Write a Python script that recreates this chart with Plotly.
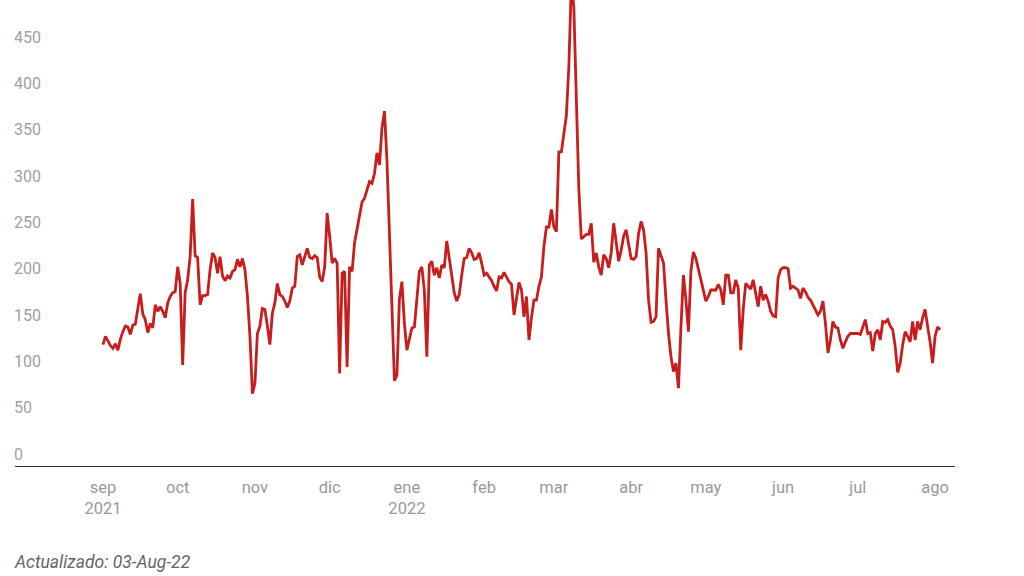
import pandas as pd
import plotly.graph_objects as go

start_date = "2021-09-01"
values = [
    131, 140, 135, 130, 127, 132, 125, 137, 145, 151,
    150, 142, 152, 153, 170, 186, 164, 158, 144, 154,
    149, 174, 167, 172, 167, 160, 176, 183, 187, 188,
    215, 197, 109, 187, 201, 226, 288, 227, 225, 174,
    184, 184, 185, 212, 230, 225, 208, 226, 205, 200,
    205, 203, 210, 212, 223, 215, 224, 212, 183, 140,
    78, 89, 143, 151, 170, 169, 151, 131, 165, 176,
    197, 185, 183, 178, 171, 178, 192, 194, 226, 228,
    217, 227, 235, 225, 224, 227, 225, 204, 199, 215,
    273, 248, 219, 224, 219, 100, 208, 210, 107, 215,
    210, 241, 255, 268, 285, 289, 298, 307, 305, 316,
    338, 325, 365, 383, 330, 250, 170, 92, 98, 180,
    199, 154, 125, 138, 149, 150, 179, 210, 215, 190,
    118, 217, 221, 206, 214, 203, 217, 214, 243, 226,
    206, 187, 178, 185, 206, 224, 225, 235, 230, 223,
    224, 230, 219, 206, 208, 204, 200, 194, 189, 204,
    203, 209, 204, 199, 196, 163, 181, 198, 190, 161,
    183, 136, 160, 179, 179, 194, 204, 237, 258, 258,
    277, 258, 253, 339, 339, 361, 378, 431, 520, 496,
    400, 300, 245, 247, 250, 250, 262, 220, 230, 215,
    206, 228, 224, 214, 230, 262, 241, 221, 233, 248,
    255, 241, 224, 223, 226, 251, 264, 255, 230, 179,
    155, 156, 161, 235, 228, 219, 179, 143, 118, 102,
    111, 84, 150, 206, 179, 145, 210, 231, 224, 212,
    201, 188, 178, 183, 190, 190, 190, 196, 190, 174,
    206, 206, 187, 187, 201, 192, 125, 169, 197, 194,
    191, 201, 185, 172, 194, 179, 185, 178, 167, 162,
    161, 203, 212, 214, 214, 213, 192, 194, 192, 190,
    181, 192, 188, 182, 179, 174, 169, 163, 167, 178,
    154, 122, 136, 156, 150, 149, 136, 127, 134, 140,
    143, 143, 143, 143, 142, 151, 158, 143, 144, 124,
    143, 147, 136, 156, 155, 158, 151, 147, 129, 101,
    111, 131, 145, 140, 134, 156, 136, 156, 147, 160,
    169, 151, 134, 111, 140, 150, 147,
]
dates = pd.date_range(start_date, periods=len(values), freq="D")

tick_dates = ["2021-09-01", "2021-10-01", "2021-11-01", "2021-12-01",
              "2022-01-01", "2022-02-01", "2022-03-01", "2022-04-01",
              "2022-05-01", "2022-06-01", "2022-07-01", "2022-08-01"]
tick_labels = ["sep<br>2021", "oct", "nov", "dic", "ene<br>2022", "feb",
               "mar", "abr", "may", "jun", "jul", "ago"]
y_ticks = [0, 50, 100, 150, 200, 250, 300, 350, 400, 450]
footer = "Actualizado: 03-Aug-22"

LINE_RED = "#c71e1d"
LABEL_GRAY = "#999999"
FONT = "Roboto, 'Noto Sans', sans-serif"

fig = go.Figure(
    go.Scatter(x=dates, y=values, mode="lines",
               line=dict(color=LINE_RED, width=2.8), hoverinfo="skip")
)

x0 = pd.Timestamp("2021-09-01") - pd.Timedelta(days=35.3)
x1 = pd.Timestamp("2022-08-01") + pd.Timedelta(days=8.0)

fig.update_layout(
    width=1024, height=576,
    margin=dict(l=15, r=69, t=0, b=110),
    paper_bgcolor="white", plot_bgcolor="white",
    showlegend=False,
    font=dict(family=FONT, size=16, color=LABEL_GRAY),
)
fig.update_xaxes(
    range=[x0, x1], tickmode="array", tickvals=tick_dates, ticktext=tick_labels,
    showgrid=False, zeroline=False, showline=True, linecolor="#333333",
    linewidth=1, ticks="", ticklabelstandoff=6,
    tickfont=dict(family=FONT, size=16.5, color=LABEL_GRAY),
)
fig.update_yaxes(range=[0, 503], showgrid=False, zeroline=False,
                 showticklabels=False, showline=False)

annotations = []
for v in y_ticks:
    annotations.append(dict(
        x=0, xref="paper", y=v, yref="y", text=str(v), showarrow=False,
        xanchor="left", yanchor="middle", xshift=-3, yshift=12,
        font=dict(family=FONT, size=16, color="#a0a0a0"),
    ))
annotations.append(dict(
    x=0, xref="paper", y=(466 - 562) / 466, yref="paper", text=f"<i>{footer}</i>",
    showarrow=False, xanchor="left", yanchor="middle", xshift=-3,
    font=dict(family=FONT, size=17.5, color="#666666"),
))
fig.update_layout(annotations=annotations)

fig.write_html(
    "out.html",
    config={"displayModeBar": False},
    post_script="document.body.style.margin='0';document.body.style.overflow='hidden';",
)
